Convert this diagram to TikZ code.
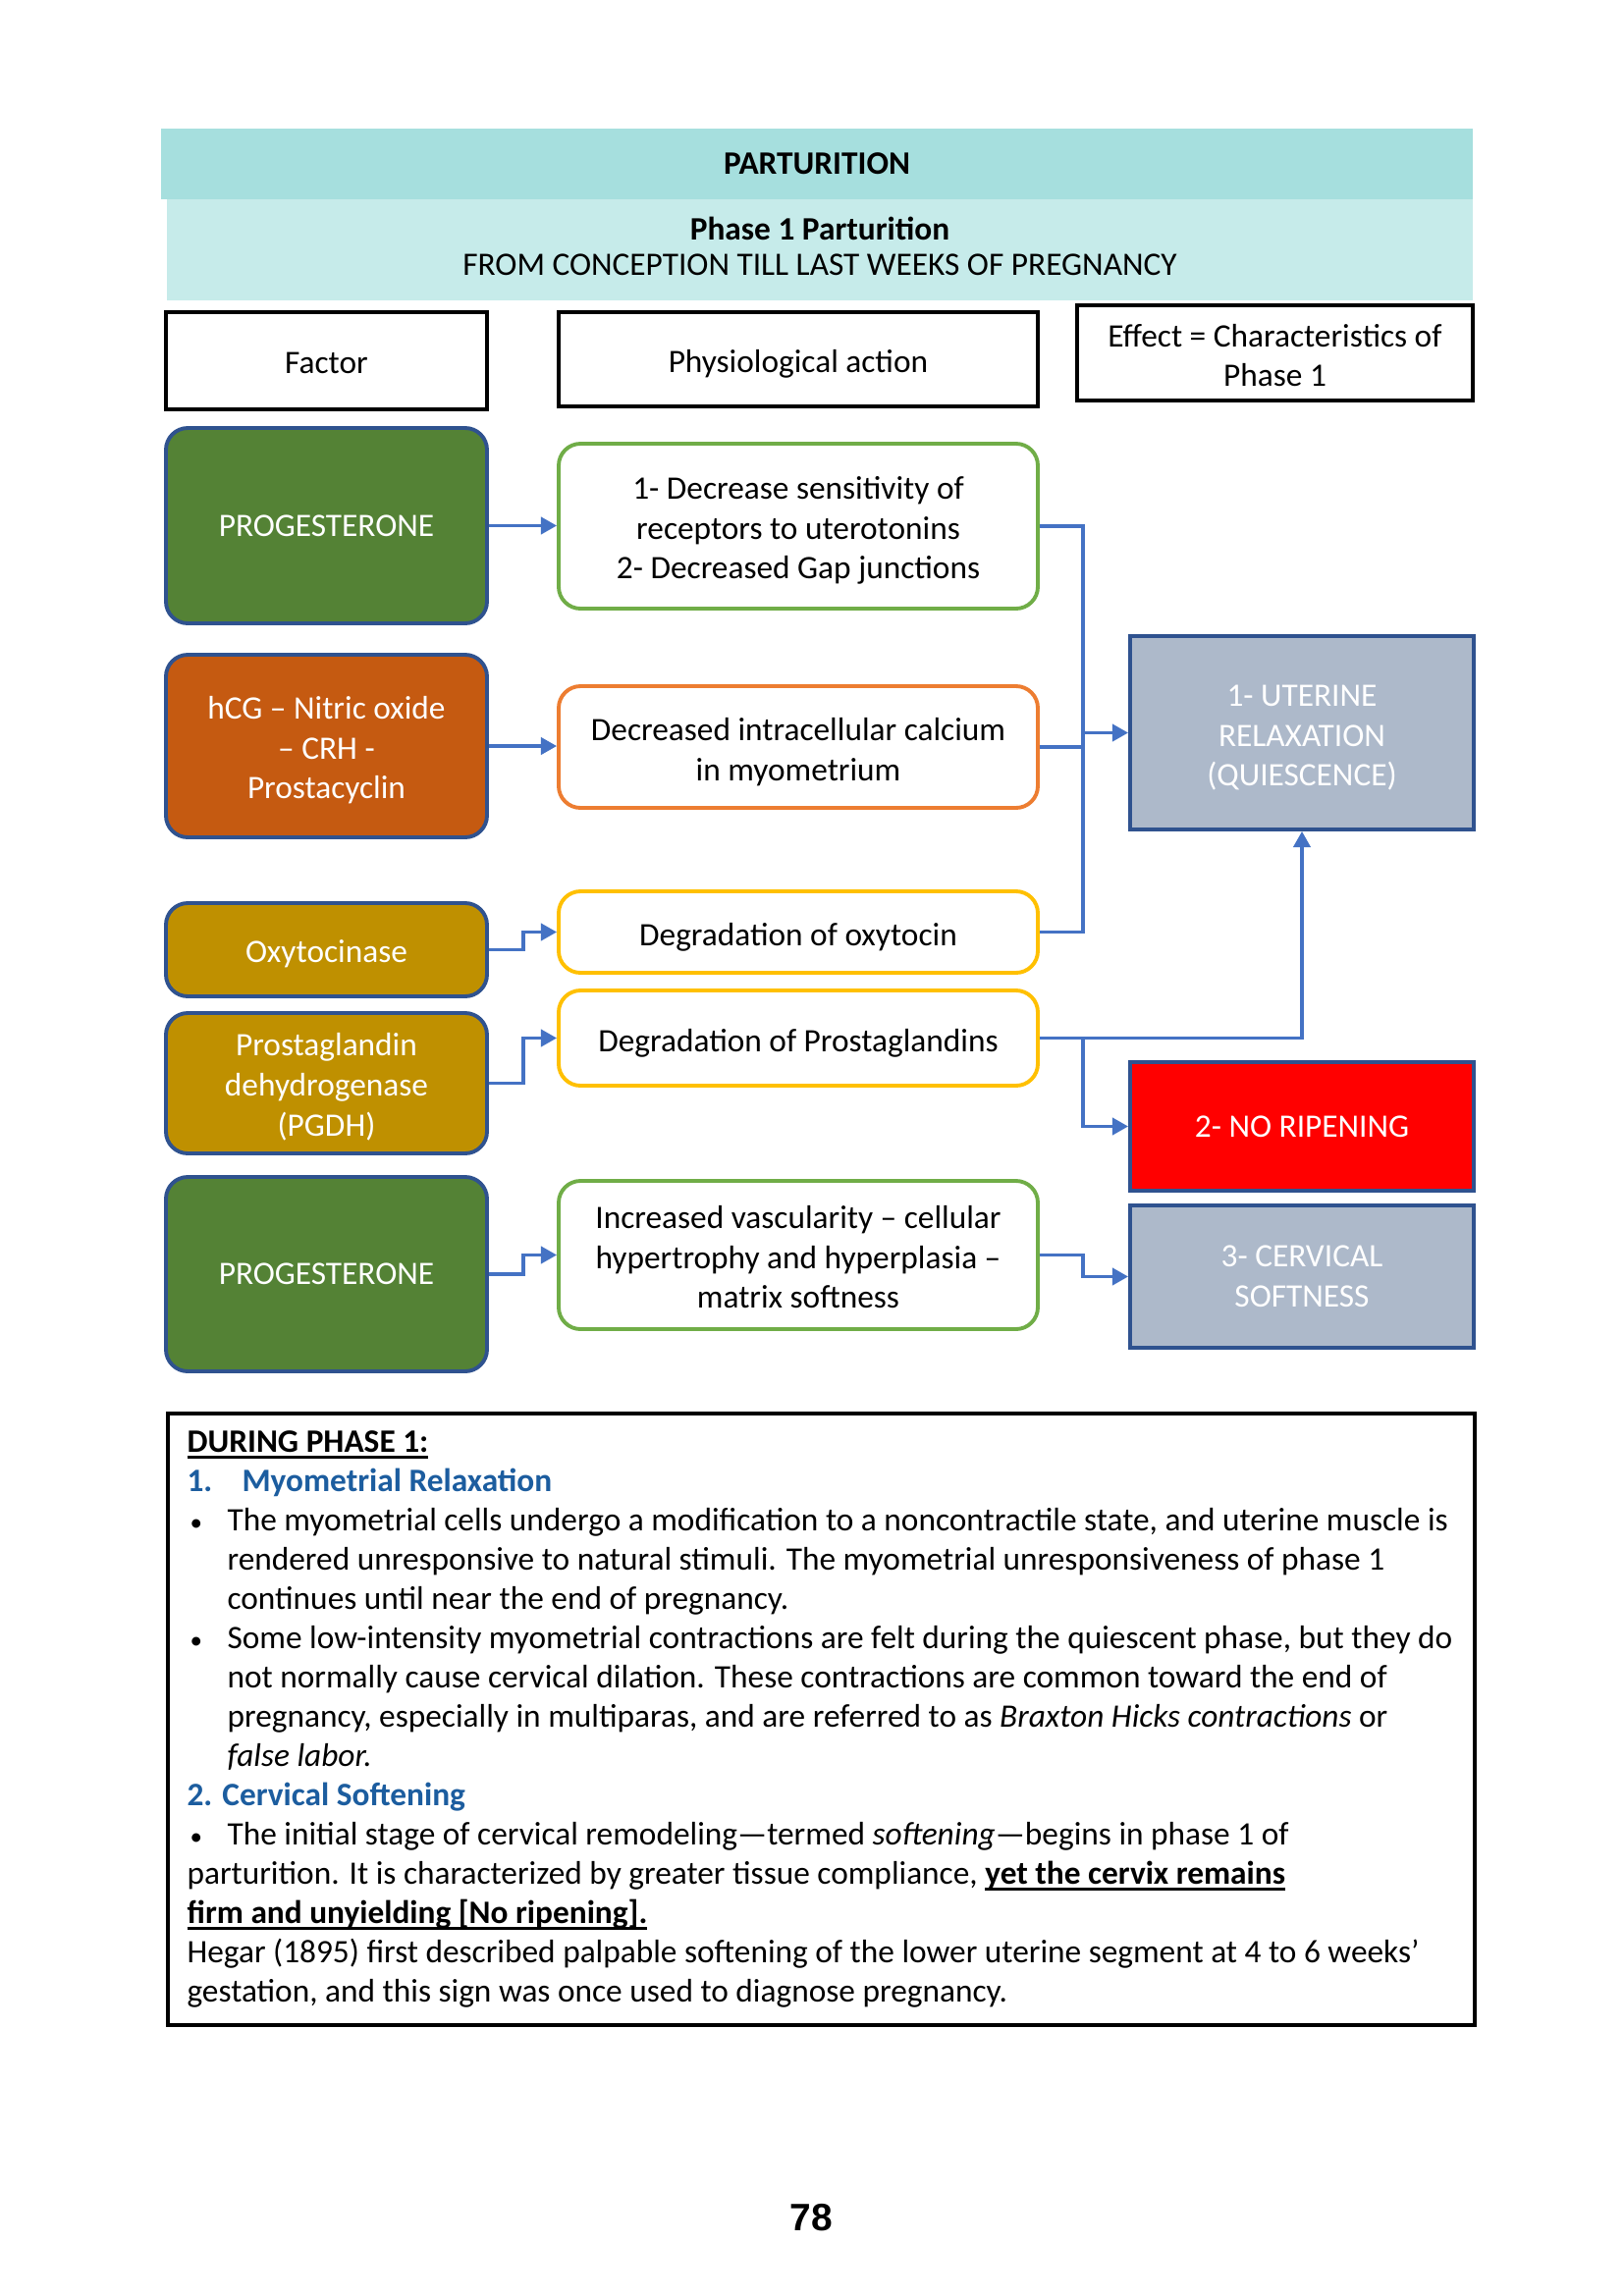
\documentclass[tikz,border=0pt]{standalone}
\usepackage{fontspec}
\setmainfont{Carlito}
\newfontfamily\pagenumfont{Liberation Sans}
\newcommand\myul[1]{\setbox0\hbox{#1}\rlap{\rule[-2.2pt]{\wd0}{0.9pt}}\box0}
\newcommand\lift[1]{\rule{0pt}{#1}}
\newcommand\smbullet{{\fontsize{9}{10}\selectfont\textbullet}}
\usetikzlibrary{arrows.meta}
\definecolor{bandA}{HTML}{A6DFDE}
\definecolor{bandB}{HTML}{C6EBEA}
\definecolor{factorborder}{HTML}{2F528F}
\definecolor{progfill}{HTML}{548235}
\definecolor{hcgfill}{HTML}{C55A11}
\definecolor{goldfill}{HTML}{BF9000}
\definecolor{greenline}{HTML}{70AD47}
\definecolor{orangeline}{HTML}{ED7D31}
\definecolor{yellowline}{HTML}{FFC000}
\definecolor{effectfill}{HTML}{ADB9CA}
\definecolor{redfill}{HTML}{FF0000}
\definecolor{connblue}{HTML}{4472C4}
\definecolor{hblue}{HTML}{1C5D9F}
\begin{document}
\begin{tikzpicture}[x=0.3599pt,y=-0.3599pt]
\tikzset{
 every node/.style={font=\fontsize{12}{14.6}\selectfont, inner sep=0pt},
 sz/.style 2 args={minimum width=#1*0.3599pt, minimum height=#2*0.3599pt},
 band/.style={fill=#1, draw=none, align=center},
 hdr/.style={draw=black, line width=1.6pt, fill=white, align=center},
 factor/.style={fill=#1, draw=factorborder, line width=1.4pt, rounded corners=8pt, text=white, align=center},
 action/.style={fill=white, draw=#1, line width=1.4pt, rounded corners=8pt, align=center},
 effect/.style={fill=#1, draw=factorborder, line width=1.4pt, text=white, align=center},
 conn/.style={draw=connblue, line width=1.2pt},
 arr/.style={conn, -{Triangle[length=5.8pt,width=6.2pt]}},
 txt/.style={anchor=base west},
}
\useasboundingbox[fill=white] (0,0) rectangle (1654,2339);

% bands
\node[band=bandA, sz={1336}{72}] (band1) at (832,167) {\textbf{PARTURITION}};
\node[band=bandB, sz={1330}{103}, font=\fontsize{12}{12.9}\selectfont] (band2) at (835,254.5) {\textbf{Phase 1 Parturition}\\FROM CONCEPTION TILL LAST WEEKS OF PREGNANCY\rule[-2.4pt]{0pt}{1pt}};

% headers
\node[hdr, sz={327}{99}] (hfactor) at (332.5,367.5) {\lift{9.7pt}Factor};
\node[hdr, sz={488}{96}] (haction) at (813,366) {\lift{12pt}Physiological action};
\node[hdr, sz={403}{97}] (heffect) at (1298.5,359.5) {\lift{10pt}Effect = Characteristics of\\Phase 1};

% factors
\node[factor=progfill, sz={327}{199}] (prog1) at (332.5,535.5) {PROGESTERONE};
\node[factor=hcgfill, sz={327}{186}] (hcg) at (332.5,760) {\lift{11.5pt}hCG -- Nitric oxide\\-- CRH -\\Prostacyclin};
\node[factor=goldfill, sz={327}{95}] (oxy) at (332.5,967.5) {\lift{11pt}Oxytocinase};
\node[factor=goldfill, sz={327}{143}] (pgdh) at (332.5,1103.5) {\lift{11pt}Prostaglandin\\dehydrogenase\\(PGDH)};
\node[factor=progfill, sz={327}{198}] (prog2) at (332.5,1298) {PROGESTERONE};

% actions
\node[action=greenline, sz={488}{168}] (act1) at (813,536) {\lift{11.5pt}1- Decrease sensitivity of\\receptors to uterotonins\\2- Decreased Gap junctions};
\node[action=orangeline, sz={488}{124}] (act2) at (813,761) {\lift{12pt}Decreased intracellular calcium\\in myometrium};
\node[action=yellowline, sz={488}{83}] (act3) at (813,949.5) {\lift{12pt}Degradation of oxytocin};
\node[action=yellowline, sz={488}{97}] (act4) at (813,1057.5) {\lift{12pt}Degradation of Prostaglandins};
\node[action=greenline, sz={488}{151}] (act5) at (813,1278.5) {\lift{10pt}Increased vascularity -- cellular\\hypertrophy and hyperplasia --\\matrix softness};

% effects
\node[effect=effectfill, sz={350}{197}] (uterine) at (1326,746.5) {\lift{11.5pt}1- UTERINE\\RELAXATION\\(QUIESCENCE)};
\node[effect=redfill, sz={350}{131}] (noripen) at (1326,1147.5) {2- NO RIPENING};
\node[effect=effectfill, sz={350}{145}] (cervical) at (1326,1300.5) {3- CERVICAL\\SOFTNESS};

% connectors
\coordinate (bus) at (1103,750);
\coordinate (stepx) at (533,1000);
\draw[arr] (prog1.east) -- (prog1.east -| act1.west);
\draw[arr] (hcg.east) -- (hcg.east -| act2.west);
\draw[conn] (act1.east) -- (act1.east -| bus) -- (bus |- act3.east) -- (act3.east);
\draw[conn] (act2.east) -- (act2.east -| bus);
\draw[arr] (bus |- uterine.west) -- (uterine.west);
\draw[arr] (oxy.east) -- (oxy.east -| stepx) -- (stepx |- act3.west) -- (act3.west);
\draw[arr] (pgdh.east) -- (pgdh.east -| stepx) -- (stepx |- act4.west) -- (act4.west);
\draw[arr] (act4.east) -| (uterine.south);
\draw[arr] (bus |- act4.east) |- (noripen.west);
\draw[arr] (prog2.east) -- (prog2.east -| stepx) -- (stepx |- act5.west) -- (act5.west);
\draw[arr] (act5.east) -- (act5.east -| bus) -- (bus |- cervical.west) -- (cervical.west);

% notes box
\node[draw=black, line width=1.4pt, anchor=north west, sz={1331}{623}] (notes) at (169,1438) {};
\node[txt] (n1) at (190,1479.5) {\textbf{\myul{DURING PHASE 1:}}};
\node[txt, text=hblue] (n2a) at (190,1519.5) {\textbf{1.}};
\node[txt, text=hblue] (n2b) at (246,1519.5) {\textbf{Myometrial Relaxation}};
\node[txt] (b1) at (193,1559.5) {\smbullet};
\node[txt] (n3) at (231,1559.5) {The myometrial cells undergo a modification to a noncontractile state, and uterine muscle is};
\node[txt] (n4) at (231,1599.5) {rendered unresponsive to natural stimuli. The myometrial unresponsiveness of phase 1};
\node[txt] (n5) at (231,1639.5) {continues until near the end of pregnancy.};
\node[txt] (b2) at (193,1679.5) {\smbullet};
\node[txt] (n6) at (231,1679.5) {Some low-intensity myometrial contractions are felt during the quiescent phase, but they do};
\node[txt] (n7) at (231,1719.5) {not normally cause cervical dilation. These contractions are common toward the end of};
\node[txt] (n8) at (231,1759.5) {pregnancy, especially in multiparas, and are referred to as \textit{Braxton Hicks contractions} or};
\node[txt] (n9) at (231,1799.5) {\textit{false labor.}};
\node[txt, text=hblue] (n10) at (190,1839.5) {\textbf{2. Cervical Softening}};
\node[txt] (b3) at (193,1879.5) {\smbullet};
\node[txt] (n11) at (231,1879.5) {The initial stage of cervical remodeling—termed \textit{softening}—begins in phase 1 of};
\node[txt] (n12) at (190,1919.5) {parturition. It is characterized by greater tissue compliance, \textbf{\myul{yet the cervix remains}}};
\node[txt] (n13) at (190,1959.5) {\textbf{\myul{firm and unyielding [No ripening].}}};
\node[txt] (n14) at (190,1999.5) {Hegar (1895) first described palpable softening of the lower uterine segment at 4 to 6 weeks’};
\node[txt] (n15) at (190,2039.5) {gestation, and this sign was once used to diagnose pregnancy.};

% page number
\node[font=\pagenumfont\bfseries\fontsize{14}{16}\selectfont] (pagenum) at (826,2259) {78};
\end{tikzpicture}
\end{document}
